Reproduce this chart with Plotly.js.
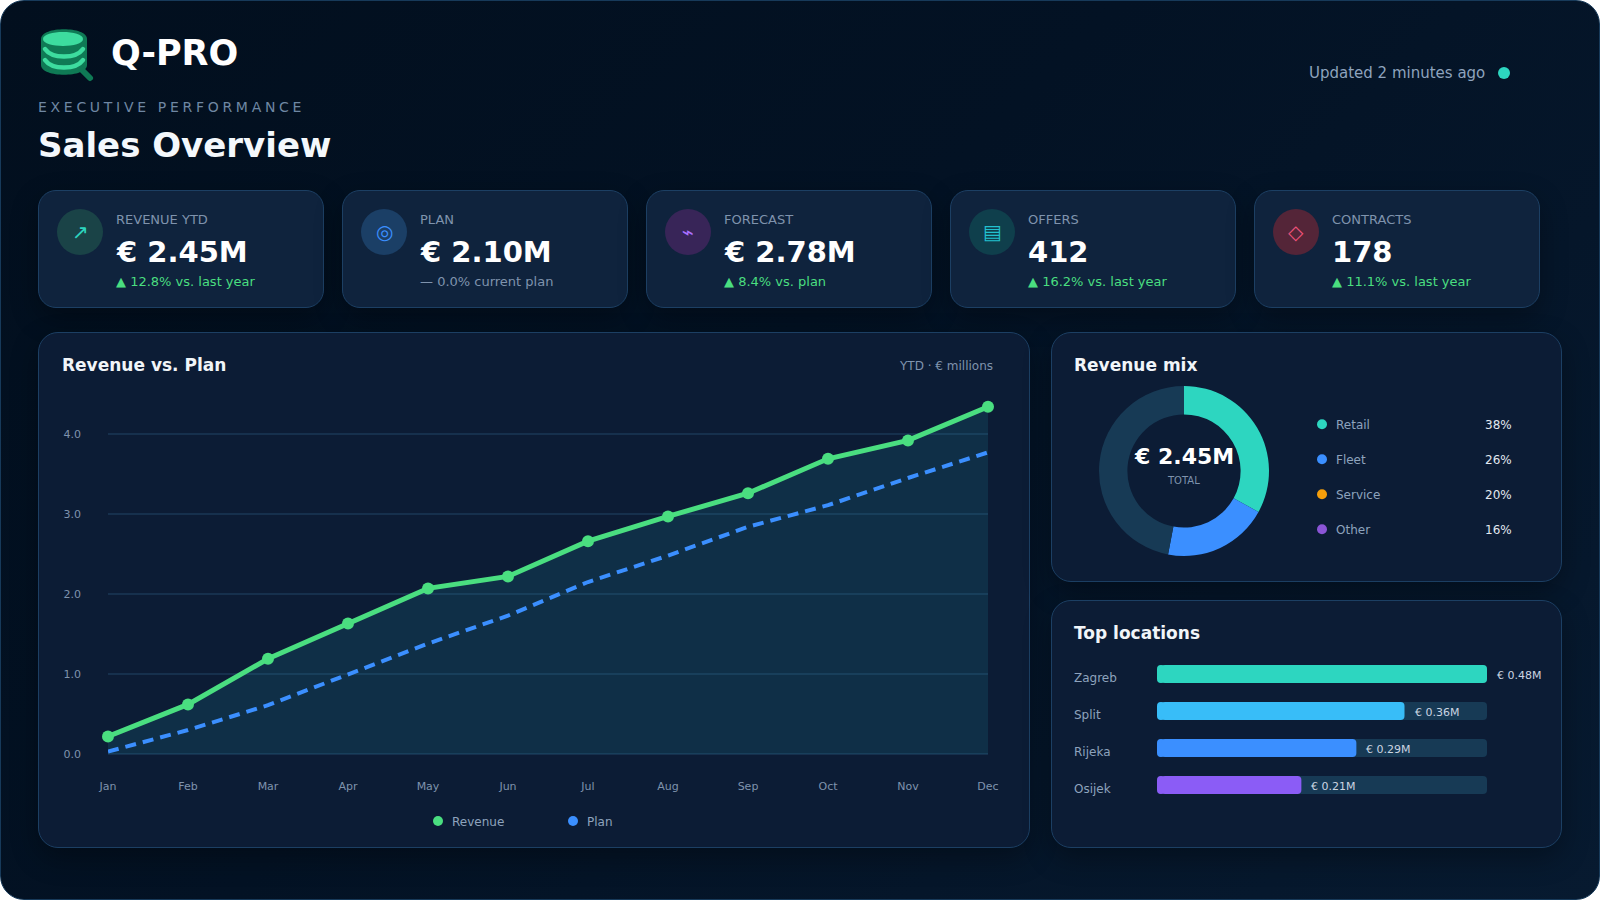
<!DOCTYPE html>
<html><head><meta charset="utf-8">
<script src="https://cdn.plot.ly/plotly-3.0.1.min.js"></script>
<style>
html,body{margin:0;padding:0;background:#fff;width:1600px;height:900px;overflow:hidden}
#frame{position:absolute;left:0;top:0;width:1598px;height:898px;border:1px solid #173a5a;border-radius:24px;background:linear-gradient(135deg,#020f1e 0%,#031224 45%,#071a30 100%)}
.card{position:absolute;box-sizing:border-box;border:1px solid #1c3f63;box-shadow:0 10px 28px rgba(0,0,0,.32)}
#plot{position:absolute;left:0;top:0;width:1600px;height:900px}
[data-unformatted="EXECUTIVE PERFORMANCE"]{letter-spacing:3.7px}
.shapelayer path{stroke-linecap:round}
</style></head><body>
<div id="frame"></div><div id="cards"></div><div id="plot"></div>
<script>
// ---- data ----
const months=['Jan','Feb','Mar','Apr','May','Jun','Jul','Aug','Sep','Oct','Nov','Dec'];
const revenue=[0.22,0.62,1.19,1.63,2.07,2.22,2.66,2.97,3.26,3.69,3.92,4.34];
const plan=[0.03,0.30,0.61,1.00,1.38,1.73,2.15,2.48,2.84,3.11,3.45,3.77];
const yTicks=[0,1,2,3,4];
const kpiLabels=['REVENUE YTD','PLAN','FORECAST','OFFERS','CONTRACTS'];
const kpiValues=['€ 2.45M','€ 2.10M','€ 2.78M','412','178'];
const kpiDeltas=['▲ 12.8% vs. last year','— 0.0% current plan','▲ 8.4% vs. plan','▲ 16.2% vs. last year','▲ 11.1% vs. last year'];
const kpiGlyphs=['↗','◎','⌁','▤','◇'];
const kpiGlyphColors=['#2dd4bf','#3b8fff','#a970ff','#22c1cf','#f0527a'];
const kpiDiscColors=['#1a4347','#1b3f66','#382558','#0f3f4c','#542538'];
const kpiDeltaColors=['#4ade80','#7f93ad','#4ade80','#4ade80','#4ade80'];
const donutSlices=['Retail','Fleet','Track'];
const donutValues=[33,20,47];
const donutColors=['#2dd6c0','#3b8fff','#173a55'];
const mixNames=['Retail','Fleet','Service','Other'];
const mixShares=['38%','26%','20%','16%'];
const mixColors=['#2dd6c0','#3b8fff','#f59e0b','#8b55d6'];
const cities=['Zagreb','Split','Rijeka','Osijek'];
const cityValues=[0.48,0.36,0.29,0.21];
const cityLabels=['€ 0.48M','€ 0.36M','€ 0.29M','€ 0.21M'];
const cityColors=['#2dd6c0','#38bdf8','#3b8fff','#8b5cf6'];
const FONT='"DejaVu Sans", sans-serif';

// ---- card chrome ----
const W=1600,H=900,X=p=>p/W,Y=p=>1-p/H;
const kpiLefts=[37.6,341.6,645.6,949.6,1253.6];
const cardBoxes=kpiLefts.map(l=>[l,190,286.8,118.4,18,'#0f233d']).concat([[38,332,992,516,20,'#0c1c35'],[1051.4,332,510.6,250,20,'#0c1c35'],[1051.4,600,510.6,248.4,20,'#0c1c35']]);
const holder=document.getElementById('cards');
cardBoxes.forEach(b=>{const d=document.createElement('div');d.className='card';
 d.style.cssText=`left:${b[0]}px;top:${b[1]}px;width:${b[2]}px;height:${b[3]}px;border-radius:${b[4]}px;background:${b[5]}`;holder.appendChild(d);});

// ---- helpers ----
const ann=[],shp=[];
function txt(text,x,y,size,color,opts={}){ann.push(Object.assign({text,x:X(x),y:Y(y),xref:'paper',yref:'paper',xanchor:'left',yanchor:'middle',showarrow:false,borderpad:0,font:{family:FONT,size,color}},opts));}
function bold(size,color){return {font:{family:FONT,size,color,weight:700}};}
function dot(cx,cy,r,color){shp.push({type:'circle',xref:'paper',yref:'paper',x0:X(cx-r),x1:X(cx+r),y0:Y(cy+r),y1:Y(cy-r),fillcolor:color,line:{width:0},layer:'below'});}
function pathOf(cmds){return cmds.map(c=>typeof c==='string'?c:`${X(c[0])},${Y(c[1])}`).join(' ').replace(/ ,/g,',');}
function poly(cmds,fill,lineColor,lw){shp.push({type:'path',xref:'paper',yref:'paper',path:pathOf(cmds).replace(/([MLQC]) /g,'$1'),fillcolor:fill,line:{color:lineColor||'rgba(0,0,0,0)',width:lw||0},layer:'below'});}

// ---- logo ----
poly(['M',[41,39],'C',[41,26],[87,26],[87,39],'L',[87,65],'C',[87,78],[41,78],[41,65],'Z'],'#0f7a55');
poly(['M',[82,70],'L',[90,78]],'rgba(0,0,0,0)','#0f7a55',6);
poly(['M',[43,39],'C',[43,29.7],[83,29.7],[83,39],'C',[83,48.3],[43,48.3],[43,39],'Z'],'#3ddc9f');
poly(['M',[45,49],'C',[52,59],[76,59],[83,49]],'rgba(0,0,0,0)','#3ddc9f',4.5);
poly(['M',[45,60],'C',[52,70],[76,70],[83,60]],'rgba(0,0,0,0)','#3ddc9f',4.5);

// ---- header ----
txt('Q-PRO',110,53,35,'#ffffff',bold(35,'#ffffff'));
txt('EXECUTIVE PERFORMANCE',37,107,14,'#6f87a3');
txt('Sales Overview',37,145,34,'#f4f8fc',bold(34,'#f4f8fc'));
txt('Updated 2 minutes ago',1308,73,15,'#8ea3bd');
dot(1504,73,6,'#2dd6c0');

// ---- KPI cards ----
kpiLefts.forEach((l,i)=>{
 dot(l+42.4,232,23,kpiDiscColors[i]);
 txt(kpiGlyphs[i],l+42.4,232,20,kpiGlyphColors[i],{xanchor:'center'});
 txt(kpiLabels[i],l+77.4,219,13,'#7f93ad');
 txt(kpiValues[i],l+77.4,252,29,'#fff',bold(29,'#ffffff'));
 txt(kpiDeltas[i],l+77.4,281.6,13,kpiDeltaColors[i]);
});

// ---- main chart text ----
txt('Revenue vs. Plan',61,364.6,17,'#f1f5f9',bold(17,'#f1f5f9'));
txt('YTD · € millions',994,366,12,'#7f93ad',{xanchor:'right'});
dot(438,821,5,'#4ade80'); txt('Revenue',451,822,12,'#8ea3bd');
dot(573,821,5,'#3b8fff'); txt('Plan',586,822,12,'#8ea3bd');

// ---- mix text ----
txt('Revenue mix',1073,364.6,17,'#f1f5f9',bold(17,'#f1f5f9'));
txt('€ 2.45M',1184,456,22,'#fff',Object.assign({xanchor:'center'},bold(22,'#ffffff')));
txt('TOTAL',1183,480.7,10,'#7f93ad',{xanchor:'center'});
mixNames.forEach((n,i)=>{const y=424.3+i*35;
 dot(1322,y,5,mixColors[i]);
 txt(n,1335,y+1,12,'#8ea3bd');
 txt(mixShares[i],1513,y+1,12,'#e2e8f0',{xanchor:'right'});
});

// ---- locations text ----
txt('Top locations',1073,632.6,17,'#f1f5f9',bold(17,'#f1f5f9'));
cities.forEach((c,i)=>{
 ann.push({text:c,x:X(1073),xref:'paper',y:c,yref:'y3',yshift:-3.7,xanchor:'left',yanchor:'middle',showarrow:false,borderpad:0,font:{family:FONT,size:12,color:'#8ea3bd'}});
 ann.push({text:cityLabels[i],x:cityValues[i],xref:'x3',y:c,yref:'y3',xshift:9,yshift:-1,xanchor:'left',yanchor:'middle',showarrow:false,borderpad:0,font:{family:FONT,size:11,color:'#cbd5e1'}});
});

// ---- traces ----
const fullScale=Math.max(...cityValues);
const capW=fullScale*8/330; // left end-cap: plotly only rounds a bar's far end, so a short reversed bar rounds the start
const traces=[
 {type:'scatter',mode:'lines',x:months,y:revenue,xaxis:'x',yaxis:'y',line:{width:0},fill:'tozeroy',fillcolor:'rgba(38,140,160,0.17)',hoverinfo:'skip'},
 {type:'scatter',mode:'lines',x:months,y:plan,xaxis:'x',yaxis:'y',line:{color:'#3b8fff',width:4,dash:'11px,7px'},cliponaxis:false},
 {type:'scatter',mode:'lines+markers',x:months,y:revenue,xaxis:'x',yaxis:'y',line:{color:'#4ade80',width:5},marker:{color:'#4ade80',size:12},cliponaxis:false},
 {type:'pie',labels:donutSlices,values:donutValues,hole:0.666,sort:false,direction:'clockwise',rotation:0,textinfo:'none',marker:{colors:donutColors,line:{width:0}},
  domain:{x:[X(1184-85),X(1184+85)],y:[Y(471+85),Y(471-85)]}},
 {type:'bar',orientation:'h',y:cities,x:cities.map(()=>-capW),base:cities.map(()=>capW),xaxis:'x3',yaxis:'y3',marker:{color:'#173a55',cornerradius:4},hoverinfo:'skip'},
 {type:'bar',orientation:'h',y:cities,x:cities.map(()=>fullScale-capW/2),base:cities.map(()=>capW/2),xaxis:'x3',yaxis:'y3',marker:{color:'#173a55',cornerradius:4},hoverinfo:'skip'},
 {type:'bar',orientation:'h',y:cities,x:cities.map(()=>-capW),base:cities.map(()=>capW),xaxis:'x3',yaxis:'y3',marker:{color:cityColors,cornerradius:4},hoverinfo:'skip'},
 {type:'bar',orientation:'h',y:cities,x:cityValues.map(v=>v-capW/2),base:cities.map(()=>capW/2),xaxis:'x3',yaxis:'y3',marker:{color:cityColors,cornerradius:4}}
];
const layout={
 width:W,height:H,margin:{l:0,r:0,t:0,b:0,pad:0},paper_bgcolor:'rgba(0,0,0,0)',plot_bgcolor:'rgba(0,0,0,0)',
 showlegend:false,font:{family:FONT},
 barmode:'overlay',bargap:0.514,
 xaxis:{type:'category',domain:[X(108),X(988)],range:[0,11],anchor:'y',showgrid:false,zeroline:false,showline:false,ticks:'',ticklabelstandoff:24,tickfont:{family:FONT,size:11,color:'#7f93ad'},fixedrange:true},
 yaxis:{domain:[Y(754),Y(394)],range:[0,4.5],anchor:'x',tickvals:yTicks,tickformat:'.1f',ticks:'',ticklabelstandoff:26,gridcolor:'#16304d',gridwidth:2,zeroline:true,zerolinecolor:'#16304d',zerolinewidth:2,showline:false,tickfont:{family:FONT,size:11,color:'#7f93ad'},fixedrange:true},
 xaxis3:{domain:[X(1157),X(1487)],range:[0,fullScale],anchor:'y3',visible:false,fixedrange:true},
 yaxis3:{domain:[Y(803.5),Y(655.5)],range:[3.5,-0.5],type:'category',categoryorder:'array',categoryarray:cities,anchor:'x3',visible:false,fixedrange:true},
 annotations:ann,shapes:shp
};
Plotly.newPlot('plot',traces,layout,{staticPlot:true,displayModeBar:false});
</script></body></html>
